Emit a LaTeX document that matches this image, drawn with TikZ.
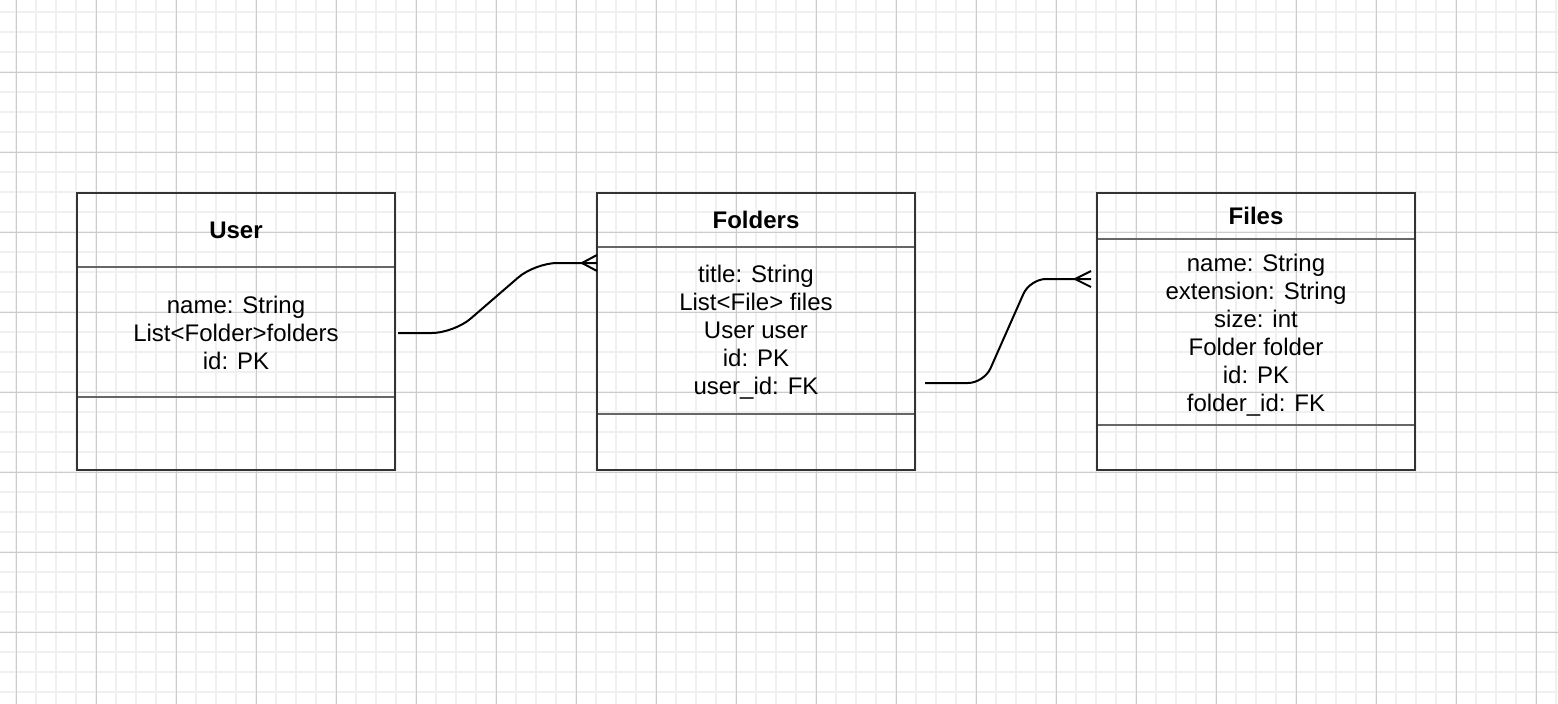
\documentclass[tikz,border=0pt]{standalone}
\usepackage{fontspec}
\setmainfont{Liberation Sans}
\begin{document}
\begin{tikzpicture}[x=1pt,y=-1pt,
  box/.style={draw=black!80, line width=2pt, fill=none, minimum width=318pt, inner sep=0pt},
  sep/.style={draw=black!60, line width=2pt},
  title/.style={font=\fontsize{24}{28}\selectfont\bfseries, inner sep=0pt, anchor=center},
  body/.style={font=\fontsize{24}{28}\selectfont, align=center, inner sep=0pt, anchor=center},
  conn/.style={draw=black, line width=2pt, rounded corners=22pt},
  crow/.style={draw=black, line width=2pt}]
\fill[white] (0,0) rectangle (1558,704);
\useasboundingbox (0,0) rectangle (1558,704);
% grid
\foreach \x in {-4,16,...,1560} \draw[black!6, line width=2pt] (\x,0) -- (\x,704);
\foreach \y in {12,32,...,704} \draw[black!6, line width=2pt] (0,\y) -- (1558,\y);
\foreach \x in {16,96,...,1560} \draw[black!20, line width=1pt] (\x,0) -- (\x,704);
\foreach \y in {72,152,...,704} \draw[black!20, line width=1pt] (0,\y) -- (1558,\y);
% boxes
\node[box, minimum height=277pt] (user) at (236,331.5) {};
\node[box, minimum height=277pt] (folders) at (756,331.5) {};
\node[box, minimum height=277pt] (files) at (1256,331.5) {};
% separators
\draw[sep] (78,267) -- (394,267);
\draw[sep] (78,397) -- (394,397);
\draw[sep] (598,247) -- (914,247);
\draw[sep] (598,414) -- (914,414);
\draw[sep] (1098,239) -- (1414,239);
\draw[sep] (1098,425) -- (1414,425);
% titles
\node[title] (usert) at (236,230) {User};
\node[title] (folderst) at (756,220) {Folders};
\node[title] (filest) at (1256,216) {Files};
% bodies
\node[body] (userb) at (236,333) {name: String\\List<Folder>folders\\id: PK};
\node[body] (foldersb) at (756,332.5) {title: String\\List<File> files\\User user\\id: PK\\user\_id: FK};
\node[body] (filesb) at (1256,335) {name: String\\extension: String\\size: int\\Folder folder\\id: PK\\folder\_id: FK};
% connector 1
\coordinate (c1s) at ([xshift=2pt]user.east |- 0,333);
\coordinate (c1e) at (597,263);
\coordinate (c1t) at (582,263);
\draw[conn] (c1s) -- (454,333) -- (535,263) -- (c1e);
\draw[crow] (597,255) -- (c1t) -- (597,271);
% connector 2
\coordinate (c2s) at (925,383);
\coordinate (c2e) at (1091,279);
\coordinate (c2t) at (1075,279);
\draw[conn, rounded corners=16pt] (c2s) -- (984,383) -- (1030,279) -- (c2e);
\draw[crow] (1091,271) -- (c2t) -- (1091,287);
\end{tikzpicture}
\end{document}
